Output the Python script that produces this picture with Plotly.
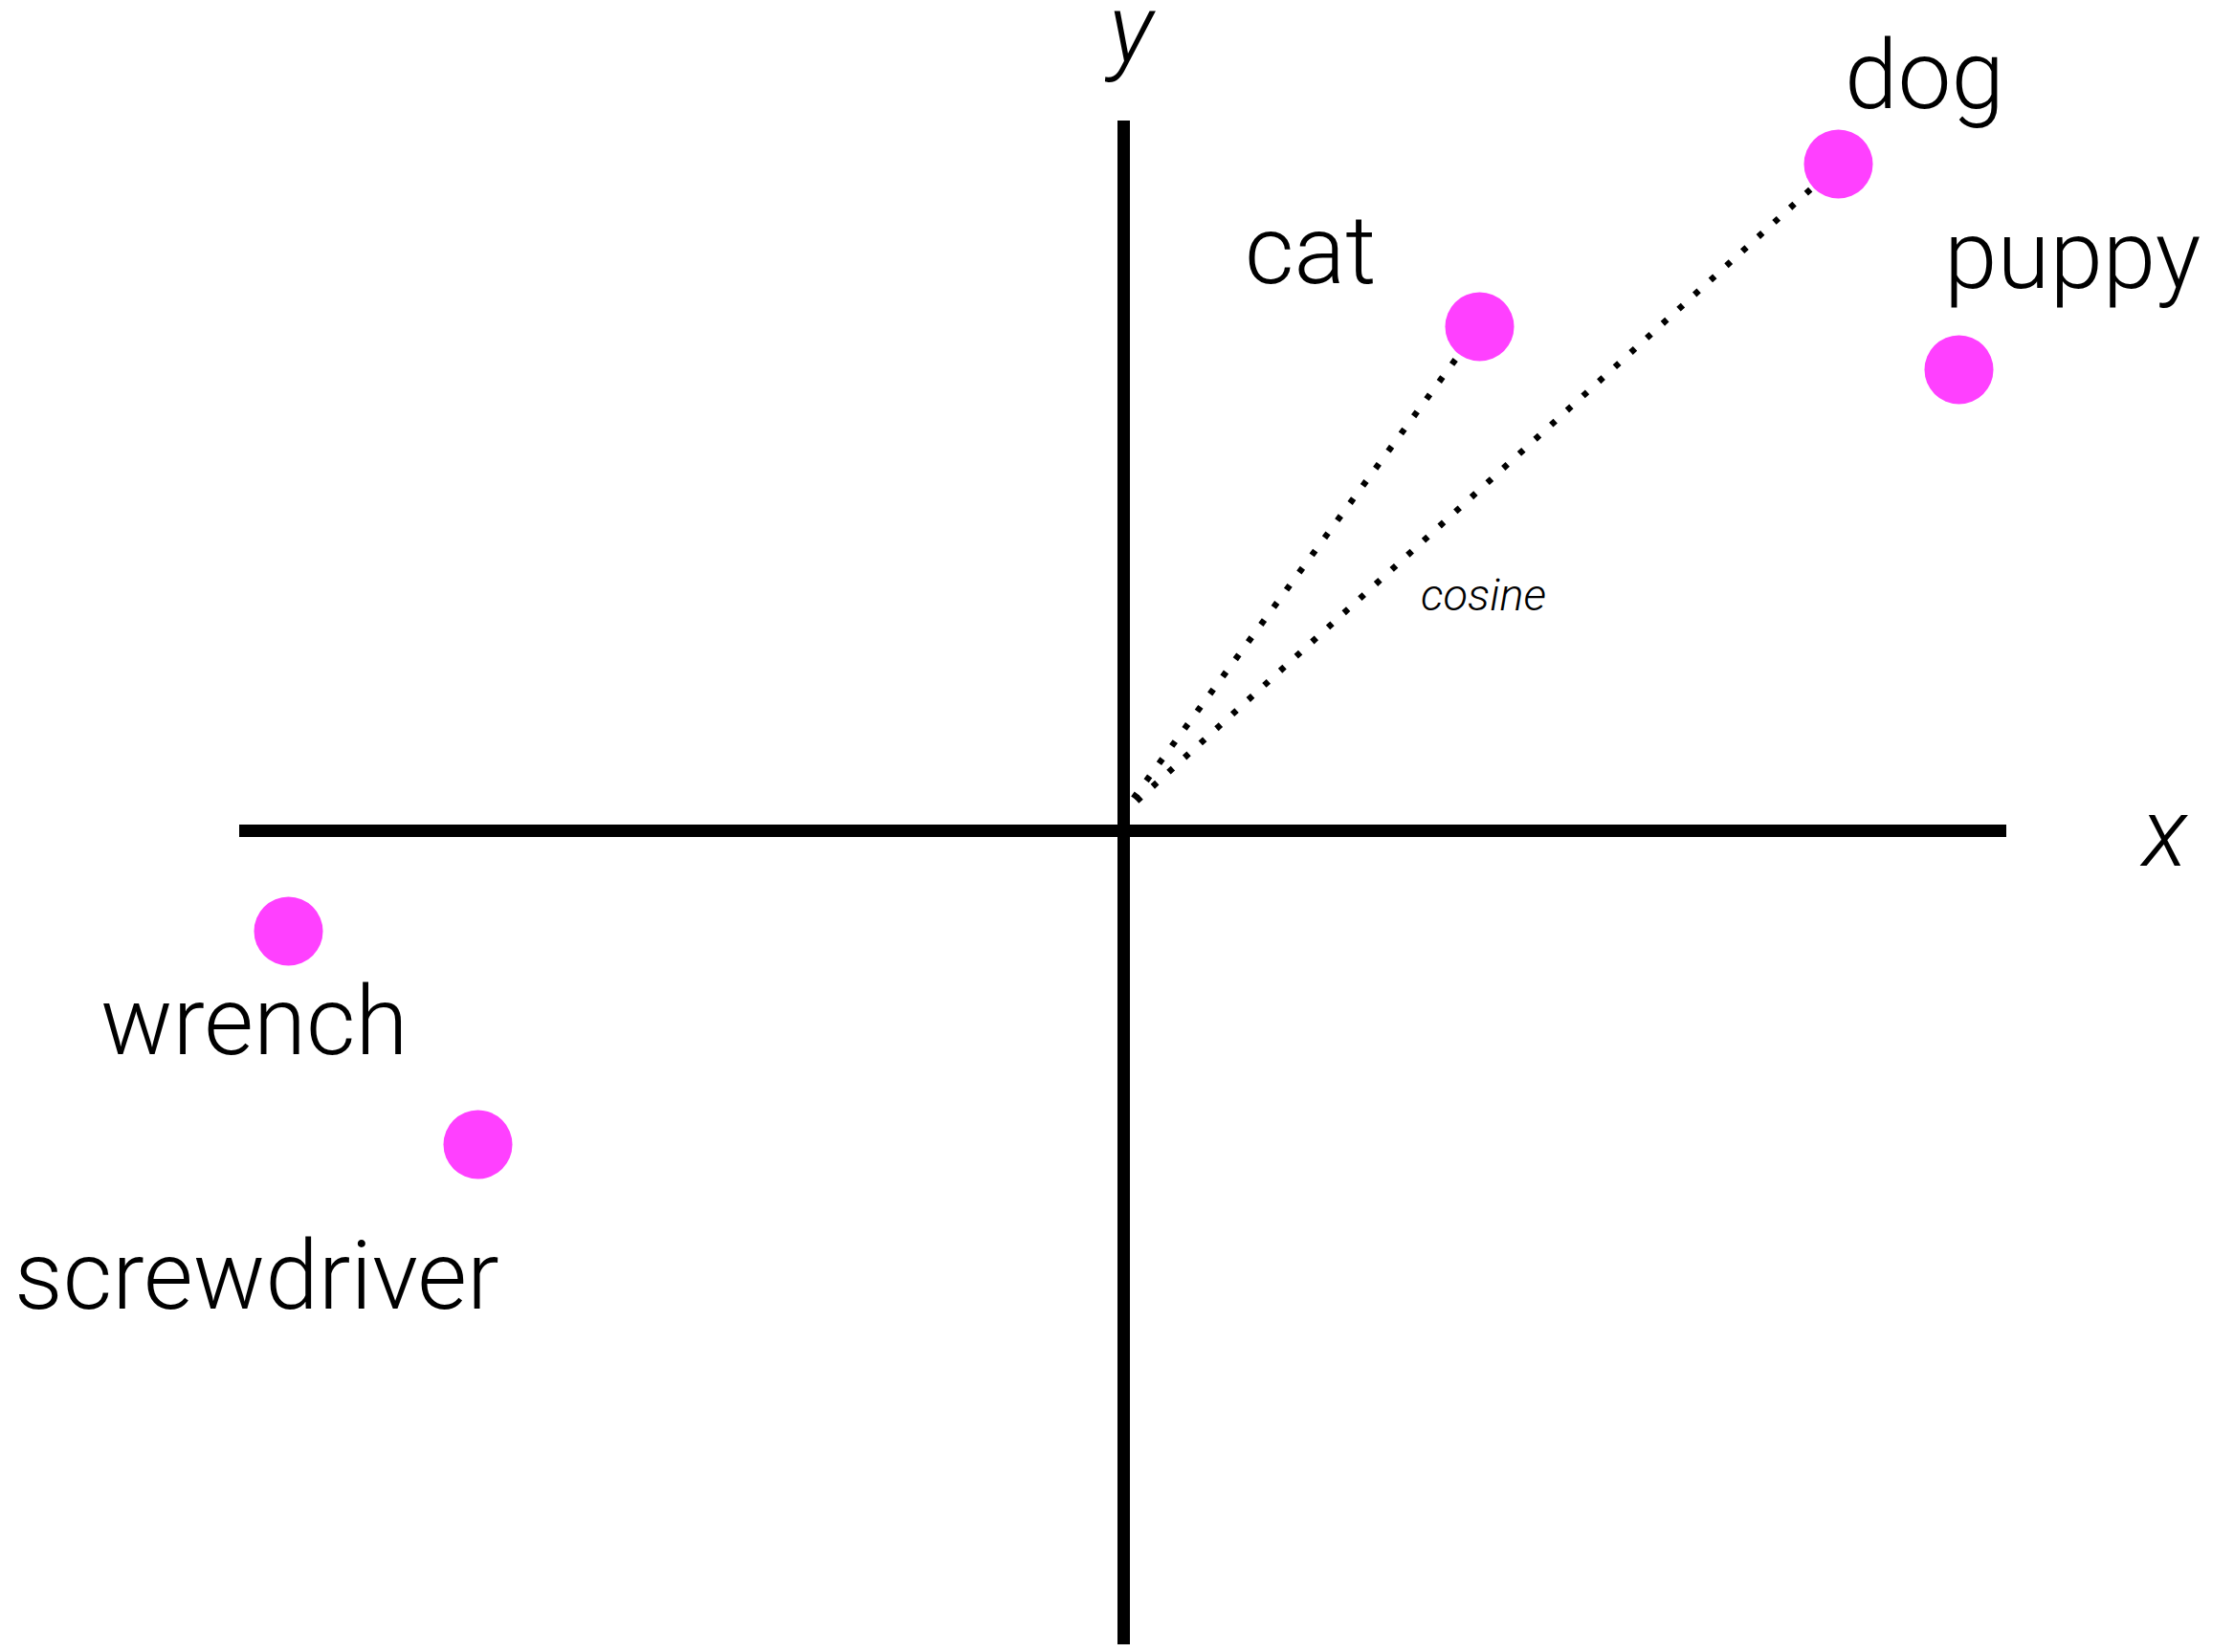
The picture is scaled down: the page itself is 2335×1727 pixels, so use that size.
import plotly.graph_objects as go

# ---- data (1 unit ~ 100 px, origin at the axes crossing) ----
words = ["cat", "dog", "puppy", "wrench", "screwdriver"]
word_x = [3.72, 7.47, 8.73, -8.73, -6.75]
word_y = [5.27, 6.97, 4.82, -1.05, -3.28]

# start point of the two dotted "cosine" vectors
vector_origin_x = -0.03
vector_origin_y = 0.16
vector_targets = ["cat", "dog"]

axis_names = ["x", "y"]
angle_label = "cosine"

# ---- layout / style ----
PAGE_MARGIN = 8  # default body margin of the html page
W, H = 2335 - 2 * PAGE_MARGIN, 1727 - 2 * PAGE_MARGIN
X_RANGE = [-11.665, 11.525]
Y_RANGE = [-8.505, 8.605]
H_AXIS_EXTENT = [-9.245, 9.225]
V_AXIS_EXTENT = [-8.56, 7.425]
AXIS_WIDTH = 13
DOT_COLOR = "#FF40FF"
DOT_SIZE = 72
FONT = "Roboto"
LABEL_SIZE = 100

# label offsets (px) relative to each point
label_shift = {
    "cat": (-177, 80),
    "dog": (90, 93),
    "puppy": (118, 120),
    "wrench": (-36, -94),
    "screwdriver": (-231, -137),
}

fig = go.Figure()

# dotted vectors
for name in vector_targets:
    i = words.index(name)
    fig.add_trace(go.Scatter(
        x=[vector_origin_x, word_x[i]],
        y=[vector_origin_y, word_y[i]],
        mode="lines",
        line=dict(color="black", width=6.5, dash="6px,16.5px"),
        hoverinfo="skip",
        showlegend=False,
    ))

# points
fig.add_trace(go.Scatter(
    x=word_x, y=word_y, mode="markers",
    marker=dict(size=DOT_SIZE, color=DOT_COLOR, line=dict(width=0)),
    text=words, hoverinfo="text", showlegend=False,
))

# axes lines
fig.add_shape(type="line", xref="x", yref="y",
              x0=H_AXIS_EXTENT[0], x1=H_AXIS_EXTENT[1], y0=0, y1=0,
              line=dict(color="black", width=AXIS_WIDTH), layer="below")
fig.add_shape(type="line", xref="x", yref="y",
              x0=0, x1=0, y0=V_AXIS_EXTENT[0], y1=V_AXIS_EXTENT[1],
              line=dict(color="black", width=AXIS_WIDTH), layer="below")

# word labels
for w, xv, yv in zip(words, word_x, word_y):
    dx, dy = label_shift[w]
    fig.add_annotation(
        x=xv, y=yv, text=w, showarrow=False,
        xanchor="center", yanchor="middle",
        xshift=dx, yshift=dy,
        font=dict(family=FONT, size=LABEL_SIZE, color="black", weight=300),
    )

# axis name labels
fig.add_annotation(x=H_AXIS_EXTENT[1], y=0, text="<i>" + axis_names[0] + "</i>",
                   showarrow=False, xanchor="center", yanchor="middle",
                   xshift=164, yshift=-2,
                   font=dict(family=FONT, size=LABEL_SIZE, color="black", weight=300))
fig.add_annotation(x=0, y=V_AXIS_EXTENT[1], text="<i>" + axis_names[1] + "</i>",
                   showarrow=False, xanchor="center", yanchor="middle",
                   xshift=6, yshift=96,
                   font=dict(family=FONT, size=LABEL_SIZE, color="black", weight=300))

# cosine label (between the two vectors)
ci, di = words.index("cat"), words.index("dog")
fig.add_annotation(x=(word_x[ci] + word_x[di]) / 2, y=(word_y[ci] + word_y[di]) / 2,
                   text="<i>" + angle_label + "</i>", showarrow=False,
                   xanchor="center", yanchor="middle",
                   xshift=-184, yshift=-365,
                   font=dict(family=FONT, size=47, color="black", weight=300))

fig.update_layout(
    width=W, height=H,
    margin=dict(l=0, r=0, t=0, b=0),
    paper_bgcolor="white", plot_bgcolor="white",
    xaxis=dict(range=X_RANGE, visible=False, fixedrange=True),
    yaxis=dict(range=Y_RANGE, visible=False, fixedrange=True),
    showlegend=False,
)

fig.write_html("out.html")
